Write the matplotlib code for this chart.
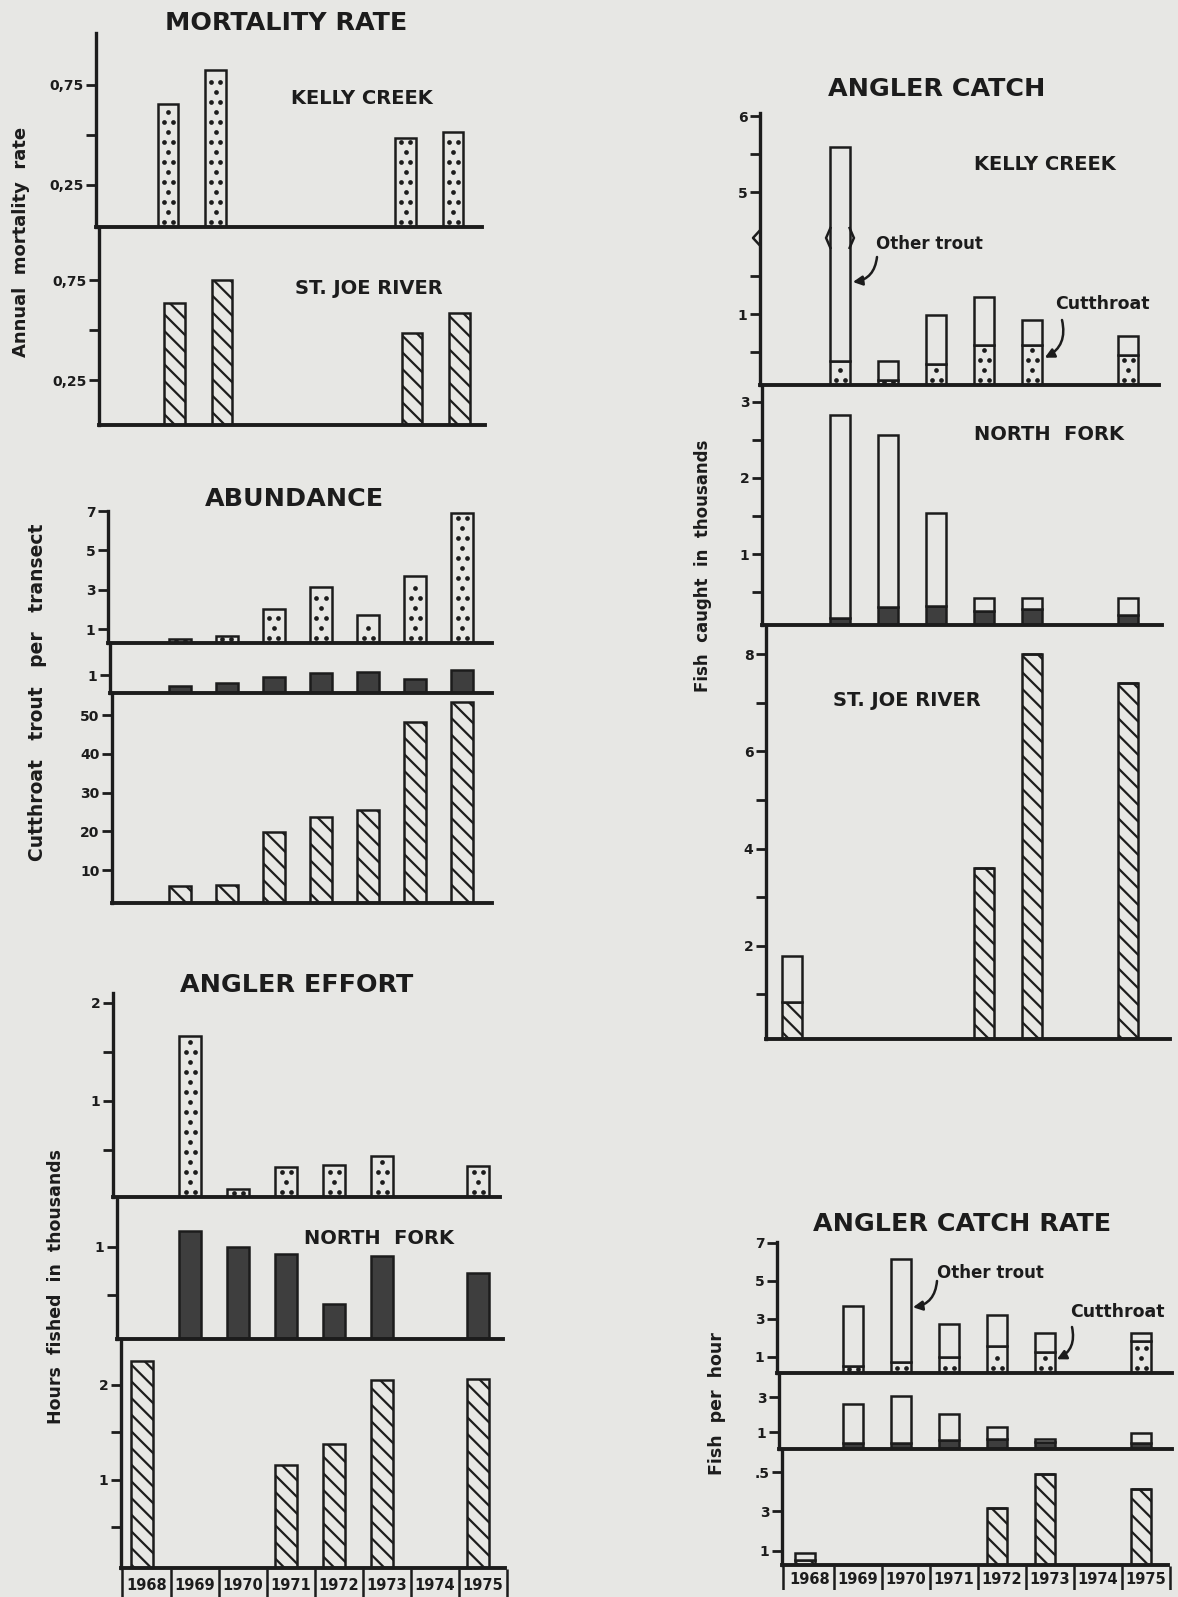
import numpy as np
import matplotlib
matplotlib.use("Agg")
import matplotlib.pyplot as plt
from matplotlib.transforms import blended_transform_factory

W, H, DPI = 1178, 1597, 100
PAPER = "#e7e7e4"
INK = "#1c1c1c"
DARK = "#3e3e3e"

plt.rcParams.update({
    "font.family": "DejaVu Sans",
    "font.weight": "bold",
    "hatch.linewidth": 1.6,
    "hatch.color": INK,
})

# ---------------- data ----------------
years = [1968, 1969, 1970, 1971, 1972, 1973, 1974, 1975]

# Annual mortality rate
mort_years = [1969, 1970, 1974, 1975]
mort_kelly = [0.655, 0.825, 0.485, 0.515]
mort_stjoe = [0.635, 0.75, 0.485, 0.585]

# Cutthroat trout per transect
abund_years = [1969, 1970, 1971, 1972, 1973, 1974, 1975]
abund_kelly = [0.49, 0.65, 2.0, 3.14, 1.71, 3.7, 6.9]
abund_nfork = [0.39, 0.56, 0.89, 1.11, 1.17, 0.78, 1.28]
abund_stjoe = [5.9, 6.2, 19.9, 23.7, 25.5, 48.3, 53.4]

# Hours fished in thousands
effort_years = [1969, 1970, 1971, 1972, 1973, 1975]
effort_kelly = [1.66, 0.10, 0.33, 0.35, 0.44, 0.34]
effort_nfork = [1.17, 1.00, 0.93, 0.40, 0.91, 0.73]
effort_stjoe_years = [1968, 1971, 1972, 1973, 1975]
effort_stjoe = [2.25, 1.15, 1.37, 2.05, 2.06]

# Fish caught in thousands (cutthroat + other trout)
catch_years = [1969, 1970, 1971, 1972, 1973, 1975]
catch_kelly_cut = [0.39, 0.14, 0.34, 0.59, 0.59, 0.47]
catch_kelly_other = [5.21, 0.25, 0.65, 0.63, 0.33, 0.24]
catch_nfork_cut = [0.16, 0.30, 0.32, 0.26, 0.28, 0.20]
catch_nfork_other = [2.66, 2.27, 1.22, 0.16, 0.14, 0.23]
catch_stjoe_years = [1968, 1972, 1973, 1975]
catch_stjoe_cut = [0.85, 3.6, 8.0, 7.4]
catch_stjoe_other = [0.94, 0.0, 0.0, 0.0]

# Fish per hour (cutthroat + other trout)
rate_years = [1969, 1970, 1971, 1972, 1973, 1975]
rate_kelly_cut = [0.53, 0.74, 1.00, 1.58, 1.26, 1.84]
rate_kelly_other = [3.15, 5.42, 1.74, 1.62, 1.00, 0.42]
rate_nfork_cut = [0.40, 0.40, 0.57, 0.63, 0.46, 0.40]
rate_nfork_other = [2.23, 2.69, 1.49, 0.68, 0.17, 0.57]
rate_stjoe_years = [1968, 1972, 1973, 1975]
rate_stjoe_cut = [0.52, 3.16, 4.92, 4.14]
rate_stjoe_other = [0.36, 0.0, 0.0, 0.0]

# Kelly Creek catch axis is broken between 2 and 4.4 thousand
BREAK_LOW, BREAK_GAP = 2.0, 2.4


def broken(v):
    v = np.asarray(v, dtype=float)
    return np.where(v > BREAK_LOW, v - BREAK_GAP, v)


fig = plt.figure(figsize=(W / DPI, H / DPI), dpi=DPI, facecolor=PAPER)


def px_text(x, y, s, size, **kw):
    fig.text(x / W, 1 - y / H, s, fontsize=size, fontweight="bold", color=INK,
             ha="center", va="center", **kw)


def panel(box, origin, step, ylim, ticks, labels):
    left, right, top, bottom = box
    ax = fig.add_axes([left / W, 1 - bottom / H, (right - left) / W, (bottom - top) / H])
    ax.set_facecolor("none")
    ax.set_xlim((left - origin) / step, (right - origin) / step)
    ax.set_ylim(*ylim)
    for side in ("top", "right"):
        ax.spines[side].set_visible(False)
    ax.spines["left"].set_linewidth(2.4)
    ax.spines["bottom"].set_linewidth(2.8)
    for sp in ax.spines.values():
        sp.set_color(INK)
        sp.set_capstyle("projecting")
    ax.set_xticks([])
    ax.set_yticks(ticks)
    ax.set_yticklabels(labels)
    ax.tick_params(axis="y", direction="out", length=7, width=2, colors=INK,
                   labelsize=10, pad=2)
    return ax


def stipple(ax, container, dx=9.0, dy=10.0, dot=3.4):
    """Screen-tone dots laid over each bar of a container (display-pixel lattice)."""
    inv = ax.transData.inverted()
    y_floor = ax.transAxes.transform((0, 0))[1]
    pts = []
    for r in container.patches:
        (x0, y0), (x1, y1) = ax.transData.transform(
            [(r.get_x(), r.get_y()), (r.get_x() + r.get_width(), r.get_y() + r.get_height())])
        y0 = max(y0, y_floor)
        if y1 - y0 < 3:
            continue
        rows = np.arange(y0 + 5, y1 - 3, dy)
        if rows.size == 0:
            rows = np.array([(y0 + y1) / 2])
        xc = (x0 + x1) / 2
        for i, yy in enumerate(rows):
            xs = [xc - dx / 2, xc + dx / 2] if i % 2 == 0 else [xc]
            pts.extend((xx, yy) for xx in xs)
    if pts:
        d = inv.transform(np.array(pts))
        ax.scatter(d[:, 0], d[:, 1], s=dot ** 2, color=INK, linewidths=0, zorder=3)


def bars(ax, yrs, vals, style, bottom=None, width=0.44):
    x = np.asarray(yrs) - 1968
    kw = dict(width=width, edgecolor=INK, linewidth=1.8, bottom=bottom)
    if style == "hatch":
        kw.update(facecolor=PAPER, hatch="\\\\")
    elif style == "solid":
        kw.update(facecolor=DARK)
    else:
        kw.update(facecolor=PAPER)
    bc = ax.bar(x, vals, **kw)
    if style == "dots":
        stipple(ax, bc)
    return bc


def year_strip(box, origin, step):
    left, right, top, bottom = box
    ax = fig.add_axes([left / W, 1 - bottom / H, (right - left) / W, (bottom - top) / H])
    ax.set_xlim((left - origin) / step, (right - origin) / step)
    ax.set_ylim(0, 1)
    ax.axis("off")
    idx = np.arange(len(years))
    ax.vlines(np.r_[ax.get_xlim()[0] + 0.02, idx + 0.6], 0, 1, color=INK, lw=1.8)
    for k, yr in enumerate(years):
        ax.text(k + 0.1, 0.42, str(yr), ha="center", va="center",
                fontsize=10.5, fontweight="bold", color=INK)


def pointer(ax, start_px, target, rad=-0.4):
    ax.annotate("", xy=target, xycoords="data",
                xytext=(start_px[0], H - start_px[1]), textcoords="figure pixels",
                arrowprops=dict(arrowstyle="-|>,head_length=0.55,head_width=0.28",
                                color=INK, lw=1.8, shrinkA=0, shrinkB=1,
                                connectionstyle=f"arc3,rad={rad}"),
                annotation_clip=False)


# ================= MORTALITY RATE =================
px_text(286, 23, "MORTALITY RATE", 18.3)
ax = panel((96, 482, 33, 227), 120.5, 47.5, (0.04, 1.01),
           [0.25, 0.5, 0.75], ["0,25", "", "0,75"])
bars(ax, mort_years, mort_kelly, "dots")
px_text(362, 98, "KELLY CREEK", 14)

ax = panel((99, 485, 227, 425), 127, 47.5, (0.025, 1.015),
           [0.25, 0.5, 0.75], ["0,25", "", "0,75"])
bars(ax, mort_years, mort_stjoe, "hatch")
px_text(369, 289, "ST. JOE RIVER", 14)
px_text(21, 242, "Annual  mortality  rate", 13, rotation=90)

# ================= ABUNDANCE =================
px_text(294, 499, "ABUNDANCE", 18.3)
ax = panel((108, 492, 511, 643), 133, 47, (0.29, 7.0), [1, 3, 5, 7], ["1", "3", "5", "7"])
bars(ax, abund_years, abund_kelly, "dots", width=0.45)

ax = panel((110, 492, 643, 693), 133, 47, (0.0, 2.78), [1], ["1"])
bars(ax, abund_years, abund_nfork, "solid", width=0.45)

ax = panel((112, 492, 693, 903), 133, 47, (1.5, 55.7),
           [10, 20, 30, 40, 50], ["10", "20", "30", "40", "50"])
bars(ax, abund_years, abund_stjoe, "hatch", width=0.45)
px_text(38, 692, "Cutthroat   trout   per   transect", 13.5, rotation=90)

# ================= ANGLER EFFORT =================
px_text(297, 985, "ANGLER EFFORT", 18.3)
ax = panel((113, 500, 993, 1197), 142, 48, (0.02, 2.1),
           [0.5, 1, 1.5, 2], ["", "1", "", "2"])
bars(ax, effort_years, effort_kelly, "dots")

ax = panel((117, 503, 1197, 1339), 142, 48, (0.04, 1.52), [0.5, 1], ["", "1"])
bars(ax, effort_years, effort_nfork, "solid")
px_text(379, 1238, "NORTH  FORK", 14)

ax = panel((121, 505, 1339, 1568), 142, 48, (0.07, 2.48),
           [0.5, 1, 1.5, 2], ["", "1", "", "2"])
bars(ax, effort_stjoe_years, effort_stjoe, "hatch")
year_strip((121, 510, 1569, 1597), 142, 48)
px_text(56, 1287, "Hours  fished  in  thousands", 12.5, rotation=90)

# ================= ANGLER CATCH =================
px_text(937, 89, "ANGLER CATCH", 18.3)
kelly_ticks = [0.5, 1, 1.5, 5, 5.5, 6]
ax = panel((760, 1159, 113, 385), 792, 48, (0.07, 3.64),
           broken(kelly_ticks), ["", "1", "", "5", "", "6"])
kelly_total = np.add(catch_kelly_cut, catch_kelly_other)
bars(ax, catch_years, catch_kelly_cut, "dots", width=0.4)
bars(ax, catch_years, broken(kelly_total) - np.asarray(catch_kelly_cut), "plain",
     bottom=catch_kelly_cut, width=0.4)
# break marks on bars that run past the axis break, and on the axis itself
for yr, tot in zip(catch_years, kelly_total):
    if tot > BREAK_LOW:
        xc = yr - 1968
        for edge, sgn in ((xc - 0.2, -1), (xc + 0.2, 1)):
            ax.plot([edge, edge + sgn * 0.09, edge], [BREAK_LOW + 0.13, BREAK_LOW, BREAK_LOW - 0.13],
                    color=INK, lw=1.8, solid_joinstyle="miter")
trans = blended_transform_factory(ax.transAxes, ax.transData)
ax.plot([0, -7 / (1159 - 760), 0], [BREAK_LOW + 0.1, BREAK_LOW, BREAK_LOW - 0.1],
        transform=trans, color=INK, lw=1.8, clip_on=False)
px_text(1045, 165, "KELLY CREEK", 14)
px_text(929, 244, "Other trout", 12)
pointer(ax, (877, 257), (1 + 0.24, 1.42))
px_text(1102, 304, "Cutthroat", 12.5)
pointer(ax, (1062, 320), (5 + 0.24, 0.42))

ax = panel((762, 1162, 385, 625), 792, 48, (0.07, 3.22),
           [0.5, 1, 1.5, 2, 2.5, 3], ["", "1", "", "2", "", "3"])
bars(ax, catch_years, catch_nfork_cut, "solid", width=0.4)
bars(ax, catch_years, catch_nfork_other, "plain", bottom=catch_nfork_cut, width=0.4)
px_text(1049, 435, "NORTH  FORK", 14)

ax = panel((766, 1170, 625, 1039), 792, 48, (0.08, 8.6),
           [1, 2, 3, 4, 5, 6, 7, 8], ["", "2", "", "4", "", "6", "", "8"])
bars(ax, catch_stjoe_years, catch_stjoe_cut, "hatch", width=0.42)
bars(ax, catch_stjoe_years, catch_stjoe_other, "plain", bottom=catch_stjoe_cut, width=0.42)
px_text(907, 701, "ST. JOE RIVER", 14)
px_text(703, 566, "Fish  caught  in  thousands", 12, rotation=90)

# ================= ANGLER CATCH RATE =================
px_text(962, 1224, "ANGLER CATCH RATE", 18.3)
ax = panel((777, 1172, 1242, 1373), 805, 48, (0.15, 7.05), [1, 3, 5, 7], ["1", "3", "5", "7"])
bars(ax, rate_years, rate_kelly_cut, "dots", width=0.4)
bars(ax, rate_years, rate_kelly_other, "plain", bottom=rate_kelly_cut, width=0.4)
px_text(990, 1273, "Other trout", 12)
pointer(ax, (937, 1281), (2 + 0.22, 3.6))
px_text(1117, 1312, "Cutthroat", 12.5)
pointer(ax, (1072, 1327), (5 + 0.22, 0.84))

ax = panel((779, 1172, 1373, 1449), 805, 48, (0.05, 4.4), [1, 3], ["1", "3"])
bars(ax, rate_years, rate_nfork_cut, "solid", width=0.4)
bars(ax, rate_years, rate_nfork_other, "plain", bottom=rate_nfork_cut, width=0.4)

ax = panel((782, 1168, 1449, 1565), 805, 48, (0.26, 6.2), [1, 3, 5], ["1", "3", ".5"])
bars(ax, rate_stjoe_years, rate_stjoe_cut, "hatch", width=0.4)
bars(ax, rate_stjoe_years, rate_stjoe_other, "plain", bottom=rate_stjoe_cut, width=0.4)
year_strip((782, 1175, 1566, 1590), 805, 48)
px_text(717, 1404, "Fish  per  hour", 12.5, rotation=90)

fig.savefig("out.png", dpi=DPI, facecolor=PAPER)
